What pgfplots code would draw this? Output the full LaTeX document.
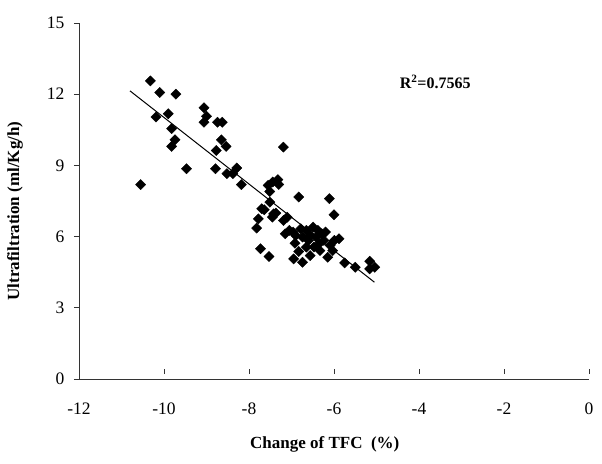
\documentclass[border=0pt]{standalone}
\usepackage{pgfplots}
\pgfplotsset{compat=1.18}
\usepackage{fontspec}
\setmainfont{Liberation Serif}

\begin{document}
\begin{tikzpicture}
\begin{axis}[
    name=ax,
    anchor=south west, at={(0,0)},
    scale only axis,
    width=510pt, height=356pt,
    xmin=-12, xmax=0,
    ymin=0, ymax=15,
    xtick={-12,-10,-8,-6,-4,-2,0},
    ytick={0,3,6,9,12,15},
    axis x line*=bottom, axis y line*=left,
    axis line style={-, black!80, line width=0.9pt},
    major tick length=5pt,
    tick style={black!80, line width=0.9pt},
    x tick style={yshift=5pt},
    y tick style={xshift=-5pt},
    /pgf/number format/assume math mode=true,
    ticklabel style={font=\fontsize{17.5}{20}\selectfont},
    xticklabel style={yshift=-20pt},
    yticklabel style={xshift=-11pt},
    xlabel={\textbf{Change of TFC\ \ (\%)}},
    ylabel={\textbf{Ultrafiltration (ml/Kg/h)}},
    label style={font=\fontsize{17}{20}\selectfont},
    xlabel style={at={(axis description cs:0.482,-0.185)}, anchor=center},
    ylabel style={at={(axis description cs:-0.1255,0.472)}, anchor=center},
    clip=false,
]
\addplot[only marks, mark=square*, mark size=3.6pt, mark options={rotate=45, fill=black, draw=black}] coordinates {
    (-10.55,8.19) (-10.32,12.56) (-10.10,12.07) (-9.72,12.00) (-10.19,11.04)
    (-9.90,11.18) (-9.82,10.55) (-9.74,10.08) (-9.82,9.80) (-9.47,8.86)
    (-9.06,11.43) (-9.00,11.07) (-9.06,10.82) (-8.74,10.82) (-8.63,10.82)
    (-8.65,10.08) (-8.54,9.80) (-8.77,9.63) (-8.79,8.86) (-8.52,8.65)
    (-8.38,8.65) (-8.29,8.89) (-8.18,8.19) (-7.19,9.77) (-7.55,8.16)
    (-7.51,7.90) (-7.44,8.30) (-7.32,8.40) (-7.30,8.20) (-6.83,7.67)
    (-6.11,7.60) (-6.00,6.92) (-7.70,7.17) (-7.78,6.75) (-7.82,6.36)
    (-7.64,7.13) (-7.51,7.45) (-7.42,6.96) (-7.45,6.82) (-7.19,6.68)
    (-7.10,6.82) (-7.05,6.26) (-6.96,6.19) (-6.92,5.72) (-6.95,5.06)
    (-6.74,4.92) (-6.83,5.37) (-7.73,5.49) (-7.53,5.16) (-6.78,6.33)
    (-6.74,5.98) (-6.65,6.26) (-6.56,5.20) (-6.49,6.40) (-6.42,5.98)
    (-6.47,5.56) (-6.38,6.26) (-6.33,5.41) (-6.29,6.12) (-6.24,5.84)
    (-6.20,6.19) (-6.15,5.13) (-6.09,5.63) (-6.03,5.41) (-5.99,5.84)
    (-5.88,5.91) (-5.75,4.89) (-5.50,4.71) (-5.16,4.96) (-5.16,4.64)
    (-5.04,4.71) (-6.65,5.56) (-7.37,6.99) (-7.15,6.12) (-6.60,5.84)
    (-6.90,6.05) (-6.35,5.70) (-6.55,6.05)
};
\addplot[black, line width=1pt] coordinates {(-10.80,12.14) (-5.05,4.08)};
\node[anchor=center, font=\fontsize{16}{18}\selectfont\bfseries] at (axis cs:-3.62,12.52) {R\textsuperscript{2}=0.7565};
\end{axis}
\pgfresetboundingbox
\path (-79pt,-84pt) rectangle (523pt,379pt);
\end{tikzpicture}
\end{document}
